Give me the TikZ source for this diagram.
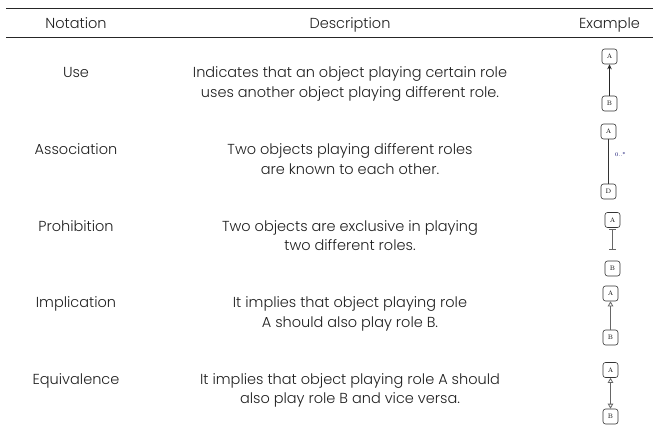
\documentclass[tikz,border=0pt]{standalone}
\usepackage{fontspec}
\IfFontExistsTF{Poppins Light}{\setmainfont{Poppins Light}}{\setmainfont{Poppins}}
\usetikzlibrary{arrows.meta}
\begin{document}
\begin{tikzpicture}[x=1pt,y=-1pt,
  cell/.style={font=\fontsize{14.5}{19.5}\selectfont, text=black!88, align=center, inner sep=0pt, anchor=base},
  desc/.style={cell, yshift=-19.5pt},
  role/.style={draw=black!80, line width=0.6pt, rounded corners=2.5pt, minimum width=15pt, minimum height=15pt,
    inner sep=0pt, font=\fontfamily{lmr}\fontsize{6.5}{6.5}\selectfont},
  rule/.style={line width=1.1pt, black!85}]
\useasboundingbox (0,0) rectangle (653,425);

% table rules
\coordinate (tl) at (6,8.5);   \coordinate (tr) at (653,8.5);
\coordinate (ml) at (6,37.5);  \coordinate (mr) at (653,37.5);
\draw[rule] (tl) -- (tr);
\draw[rule] (ml) -- (mr);

% header
\node[cell] (hn) at (76,29) {Notation};
\node[cell] (hd) at (350,29) {Description};
\node[cell] (he) at (609.5,29) {Example};

% rows: notation name and two-line description (first lines share a baseline)
\node[cell] (n1) at (76,78) {Use};
\node[desc] (d1) at (350,78) {Indicates that an object playing certain role\\uses another object playing different role.};
\node[cell] (n2) at (76,154.5) {Association};
\node[desc] (d2) at (350,154.5) {Two objects playing different roles\\are known to each other.};
\node[cell] (n3) at (76,231) {Prohibition};
\node[desc] (d3) at (350,231) {Two objects are exclusive in playing\\two different roles.};
\node[cell] (n4) at (76,307.5) {Implication};
\node[desc] (d4) at (350,307.5) {It implies that object playing role\\A should also play role B.};
\node[cell] (n5) at (76,384) {Equivalence};
\node[desc] (d5) at (350,384) {It implies that object playing role A should\\also play role B and vice versa.};

% example: use
\node[role] (a1) at (609.5,56.5) {A};
\node[role] (b1) at (609.5,103.5) {B};
\draw[line width=1.4pt, black!85, -{Stealth[length=5pt,width=4.5pt]}] (b1) -- (a1);

% example: association
\node[role] (a2) at (608.5,131.5) {A};
\node[role] (b2) at (608.5,191.5) {D};
\draw[black!80, line width=0.7pt] (a2) -- (b2);
\node[font=\fontfamily{lmr}\fontsize{5.5}{5.5}\selectfont, text=blue!40!black, inner sep=0pt] (m2) at (620.5,154) {0..*};

% example: prohibition
\node[role] (a3) at (612.5,220) {A};
\node[role] (b3) at (612.5,268.5) {B};
\draw[black!60, line width=0.8pt, {Bar[width=7pt]}-{Bar[width=7pt]}, shorten <=1pt, shorten >=11pt] (a3) -- (b3);

% example: implication
\node[role] (a4) at (610.5,293.5) {A};
\node[role] (b4) at (610.5,337.5) {B};
\draw[black!60, line width=0.8pt, -{Triangle[open,length=5pt,width=5.5pt]}] (b4) -- (a4);

% example: equivalence
\node[role] (a5) at (610.5,370) {A};
\node[role] (b5) at (610.5,416.5) {B};
\draw[black!60, line width=0.8pt, {Triangle[open,length=5pt,width=5.5pt]}-{Triangle[open,length=5pt,width=5.5pt]}] (a5) -- (b5);
\end{tikzpicture}
\end{document}
